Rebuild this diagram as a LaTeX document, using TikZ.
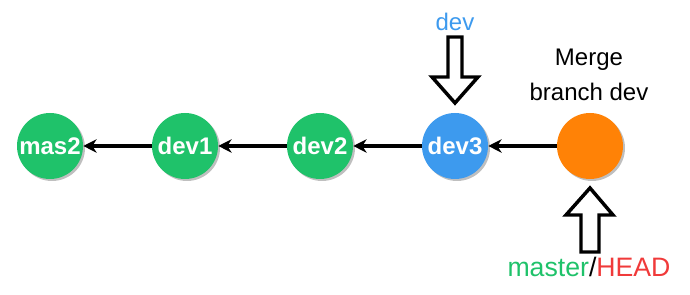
\documentclass[tikz,border=0pt]{standalone}
\usepackage{fontspec}
\setmainfont{Liberation Sans}
\usetikzlibrary{arrows.meta,shadows}
\definecolor{leaf}{HTML}{1FC26A}
\definecolor{sky}{HTML}{3D9AEE}
\definecolor{tang}{HTML}{FF8206}
\definecolor{alarm}{HTML}{F03A3A}
\tikzset{
  commit/.style={circle,fill=#1,minimum size=49.5pt,inner sep=0pt,text=white,font=\fontsize{18}{20}\selectfont\bfseries,drop shadow={shadow xshift=1.5pt,shadow yshift=-1.5pt,fill=black!25,opacity=1}},
  link/.style={-{Stealth[length=10pt,width=10pt]},line width=2.4pt,black},
  ptr/.style={draw=black,line width=2.6pt,fill=white,line join=miter},
  tag/.style={font=\fontsize{18}{26}\selectfont,align=center},
}

\begin{document}
\begin{tikzpicture}[x=0.75pt,y=0.75pt]
    \useasboundingbox (0,0) rectangle (690,295);
    \node[commit=leaf] (mas2) at (50,149) {mas2};
    \node[commit=leaf] (dev1) at (185,149) {dev1};
    \node[commit=leaf] (dev2) at (320,149) {dev2};
    \node[commit=sky] (dev3) at (455,149) {dev3};
    \node[commit=tang] (merge) at (590,149) {};
    \foreach \a/\b in {dev1/mas2,dev2/dev1,dev3/dev2,merge/dev3}
      \draw[link] (\a) -- (\b);
    \node[tag,text=sky] (devtag) at (455,273) {dev};
    \draw[ptr] (448,258) -- (462,258) -- (462,218) -- (478,218) -- (455,192) -- (432,218) -- (448,218) -- cycle;
    \node[tag] (mergetag) at (589,220) {Merge\\branch dev};
    \draw[ptr] (581,43) -- (599,43) -- (599,80) -- (613,80) -- (590,107) -- (566,80) -- (581,80) -- cycle;
    \node[tag,font=\fontsize{20}{24}\selectfont] (headtag) at (589,28) {\textcolor{leaf}{master}/\textcolor{alarm}{HEAD}};
  \end{tikzpicture}
\end{document}
